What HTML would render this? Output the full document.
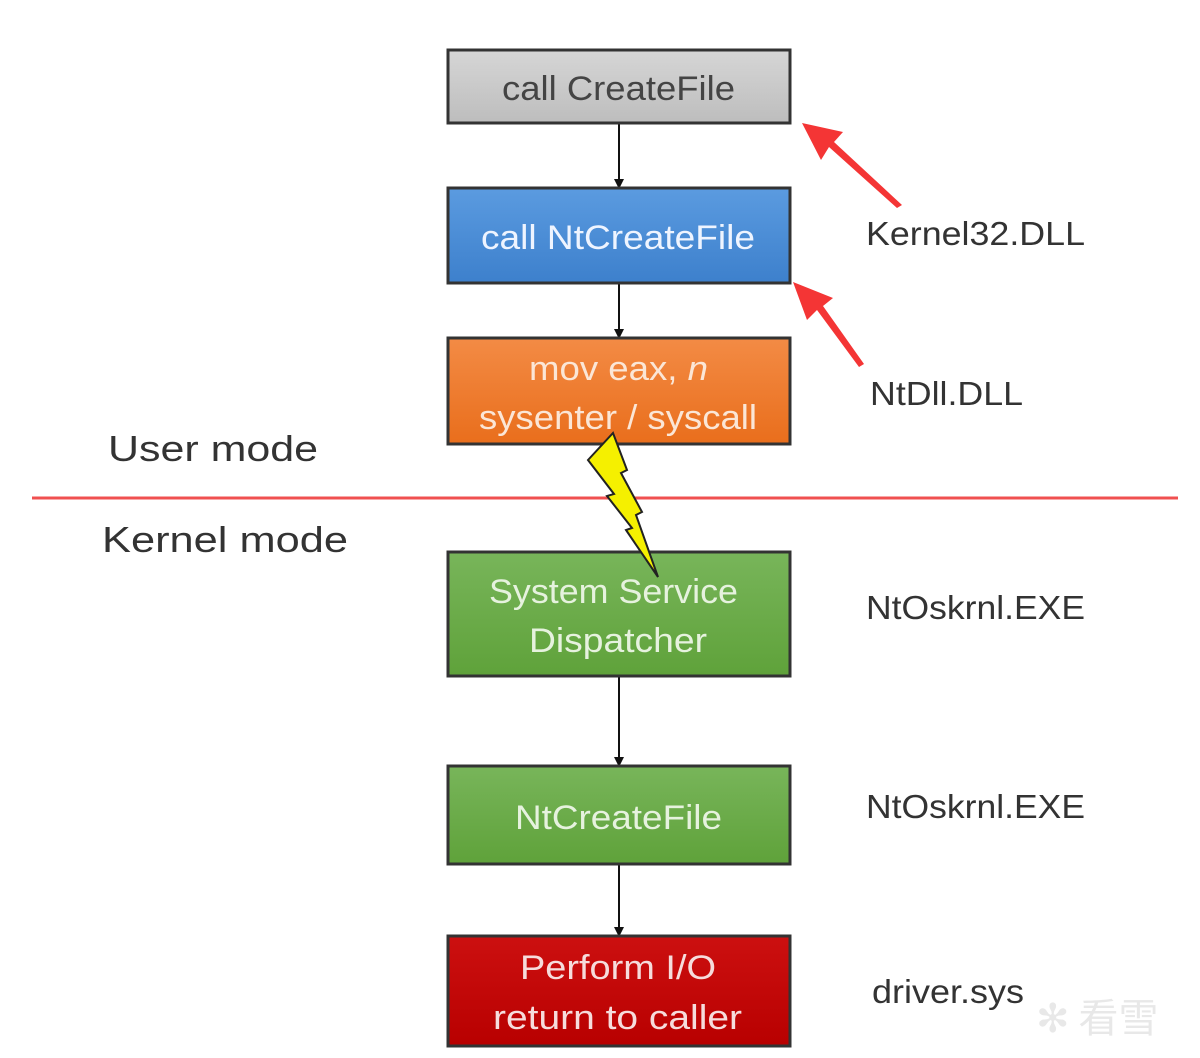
<!DOCTYPE html>
<html><head><meta charset="utf-8"><style>body{margin:0;background:#fff}svg{display:block}</style></head>
<body>
<svg width="1200" height="1058" viewBox="0 0 1200 1058" xmlns="http://www.w3.org/2000/svg" font-family="Liberation Sans, sans-serif">
<defs>
<linearGradient id="g1" x1="0" y1="0" x2="0" y2="1"><stop offset="0" stop-color="#d6d6d6"/><stop offset="1" stop-color="#bdbdbd"/></linearGradient>
<linearGradient id="g2" x1="0" y1="0" x2="0" y2="1"><stop offset="0" stop-color="#5b9be0"/><stop offset="1" stop-color="#3d80cc"/></linearGradient>
<linearGradient id="g3" x1="0" y1="0" x2="0" y2="1"><stop offset="0" stop-color="#f38b45"/><stop offset="1" stop-color="#e96e1c"/></linearGradient>
<linearGradient id="g4" x1="0" y1="0" x2="0" y2="1"><stop offset="0" stop-color="#78b55a"/><stop offset="1" stop-color="#5fa23a"/></linearGradient>
<linearGradient id="g6" x1="0" y1="0" x2="0" y2="1"><stop offset="0" stop-color="#cc1010"/><stop offset="1" stop-color="#b80000"/></linearGradient>
<marker id="ah" markerWidth="10" markerHeight="10" refX="8" refY="5" orient="auto" markerUnits="userSpaceOnUse"><path d="M0,0 L10,5 L0,10z" fill="#111"/></marker>
</defs>
<g stroke="#111" stroke-width="2" marker-end="url(#ah)">
<line x1="619" y1="123" x2="619" y2="187"/>
<line x1="619" y1="283" x2="619" y2="337"/>
<line x1="619" y1="676" x2="619" y2="765"/>
<line x1="619" y1="864" x2="619" y2="935"/>
</g>
<g stroke="#333" stroke-width="3">
<rect x="448" y="50" width="342" height="73" fill="url(#g1)"/>
<rect x="448" y="188" width="342" height="95" fill="url(#g2)"/>
<rect x="448" y="338" width="342" height="106" fill="url(#g3)"/>
<rect x="448" y="552" width="342" height="124" fill="url(#g4)"/>
<rect x="448" y="766" width="342" height="98" fill="url(#g4)"/>
<rect x="448" y="936" width="342" height="110" fill="url(#g6)"/>
</g>
<line x1="32" y1="498" x2="1178" y2="498" stroke="#f05050" stroke-width="3"/>
<polygon points="613,433 627,470 621,473 642,512 636,515 658,577 626,530 632,528 607,496 614,494 588,460" fill="#f5f000" stroke="#222" stroke-width="2"/>
<g font-size="34" lengthAdjust="spacingAndGlyphs">
<text x="502" y="100" fill="#444" textLength="233" lengthAdjust="spacingAndGlyphs">call CreateFile</text>
<text x="481" y="249" fill="#eef4ff" textLength="274" lengthAdjust="spacingAndGlyphs">call NtCreateFile</text>
<text x="529" y="380" fill="#fbe6d6" textLength="179" lengthAdjust="spacingAndGlyphs">mov eax, <tspan font-style="italic">n</tspan></text>
<text x="479" y="429" fill="#fbe6d6" textLength="278" lengthAdjust="spacingAndGlyphs">sysenter / syscall</text>
<text x="489" y="603" fill="#e6f2de" textLength="249" lengthAdjust="spacingAndGlyphs">System Service</text>
<text x="529" y="652" fill="#e6f2de" textLength="178" lengthAdjust="spacingAndGlyphs">Dispatcher</text>
<text x="515" y="829" fill="#e6f2de" textLength="207" lengthAdjust="spacingAndGlyphs">NtCreateFile</text>
<text x="520" y="979" fill="#f6dcdc" textLength="196" lengthAdjust="spacingAndGlyphs">Perform I/O</text>
<text x="493" y="1029" fill="#f6dcdc" textLength="249" lengthAdjust="spacingAndGlyphs">return to caller</text>
</g>
<g font-size="36" fill="#333">
<text x="108" y="461" textLength="210" lengthAdjust="spacingAndGlyphs">User mode</text>
<text x="102" y="552" textLength="246" lengthAdjust="spacingAndGlyphs">Kernel mode</text>
</g>
<g font-size="33" fill="#333">
<text x="866" y="245" textLength="219" lengthAdjust="spacingAndGlyphs">Kernel32.DLL</text>
<text x="870" y="405" textLength="153" lengthAdjust="spacingAndGlyphs">NtDll.DLL</text>
<text x="866" y="619" textLength="219" lengthAdjust="spacingAndGlyphs">NtOskrnl.EXE</text>
<text x="866" y="818" textLength="219" lengthAdjust="spacingAndGlyphs">NtOskrnl.EXE</text>
<text x="872" y="1003" textLength="152" lengthAdjust="spacingAndGlyphs">driver.sys</text>
</g>
<g fill="#f43535">
<polygon points="802,123 843,132 834,142 902,205 897,208 829,147 821,160"/>
<polygon points="793,282 833,298 823,306 864,364 859,367 817,310 807,320"/>
</g>
<text x="1036" y="1032" font-size="40" fill="#e8e8e8" font-family="Noto Sans CJK SC, sans-serif">✻ 看雪</text>
</svg>
</body></html>
